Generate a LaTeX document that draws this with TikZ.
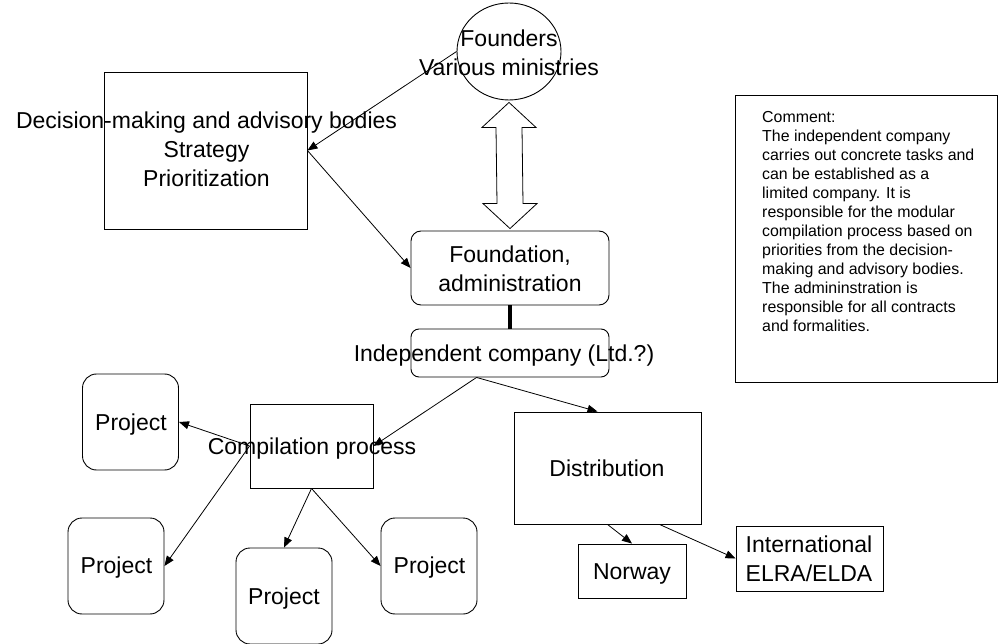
\documentclass[tikz,border=0pt]{standalone}
\usepackage{fontspec}
\setmainfont{Liberation Sans}
\usepackage{tikz}
\usetikzlibrary{arrows.meta,calc,shapes.geometric}

\begin{document}
\begin{tikzpicture}[x=1pt,y=1pt,yscale=-1,xscale=1,
  sqbox/.style={draw,line width=0.9pt,inner sep=0pt},
  rbox/.style={sqbox,rounded corners=10pt},
  pbox/.style={sqbox,rounded corners=14pt,minimum width=96pt,minimum height=96pt},
  lbl/.style={inner sep=0pt,align=center,font=\fontsize{23}{29}\selectfont},
  arr/.style={line width=0.8pt,-{Triangle[length=10pt,width=8pt]}}]
\useasboundingbox (0,0) rectangle (999,644);

%Shape: Ellipse
\node[ellipse,sqbox,minimum width=104pt,minimum height=97pt] (founders) at (509,51.5) {};
%Shape: Rectangle
\node[sqbox,minimum width=203pt,minimum height=157pt] (decision) at (205.5,150.5) {};
%Shape: Rounded Rect
\node[rbox,minimum width=198pt,minimum height=74pt] (foundation) at (510,268) {};
%Shape: Rounded Rect
\node[rbox,rounded corners=8pt,minimum width=198pt,minimum height=48pt] (independent) at (510,353) {};
%Shape: Rectangle
\node[sqbox,minimum width=262pt,minimum height=287pt] (comment) at (866.5,238.5) {};
%Shape: Rectangle
\node[sqbox,minimum width=123pt,minimum height=84pt] (compilation) at (311.5,446) {};
%Shape: Rounded Rect
\node[pbox] (projA) at (130.5,422) {};
\node[pbox] (projB) at (116,566) {};
\node[pbox] (projC) at (284,596) {};
\node[pbox] (projD) at (429,566) {};
%Shape: Rectangle
\node[sqbox,minimum width=187pt,minimum height=112pt] (distribution) at (607.5,468) {};
\node[sqbox,minimum width=108pt,minimum height=54pt] (norway) at (632,571) {};
\node[sqbox,minimum width=147pt,minimum height=65pt] (international) at (809.5,558.5) {};

%Double Arrow
\coordinate (ltop) at ($(founders.south)+(0,2)$);
\coordinate (lbot) at ($(foundation.north)+(0,-2)$);
\draw[line width=0.8pt] (ltop) -- ++(27,25) -- ++(-14,0) -- ($(lbot)+(13,-25)$) -- ++(14,0) -- (lbot)
  -- ++(-27,-25) -- ++(14,0) -- ($(ltop)+(-13,25)$) -- ++(-14,0) -- cycle;

%Straight Lines
\draw[arr] (founders.west) -- (decision.east);
\draw[arr] (decision.east) -- (foundation.west);
\draw[line width=4pt] (foundation.south) -- (independent.north);
\draw[arr] ([xshift=66pt]independent.south west) -- (compilation.east);
\draw[arr] ([xshift=66pt]independent.south west) -- ([xshift=-10pt]distribution.north);
\draw[arr] (compilation.west) -- (projA.east);
\draw[arr] (compilation.west) -- (projB.east);
\draw[arr] (compilation.south) -- (projC.north);
\draw[arr] (compilation.south) -- (projD.west);
\draw[arr] (distribution.south) -- (norway.north);
\draw[arr] ([xshift=52pt]distribution.south) -- (international.west);

% Text Node
\node[lbl] (founderstxt) at (509,53) {Founders\\Various ministries};
% Text Node
\node[lbl] (decisiontxt) at (206.5,149.6) {Decision-making and advisory bodies\\Strategy\\Prioritization};
% Text Node
\node[lbl] (foundationtxt) at (510,269) {Foundation,\\administration};
% Text Node
\node[lbl] (independenttxt) at (504,356) {Independent company (Ltd.?)};
% Text Node
\node[lbl] (compilationtxt) at (312,449) {Compilation process};
% Text Node
\node[lbl] (projAtxt) at (131,425) {Project};
\node[lbl] (projBtxt) at (116.5,568) {Project};
\node[lbl] (projCtxt) at (284,599) {Project};
\node[lbl] (projDtxt) at (429.5,568) {Project};
% Text Node
\node[lbl] (distributiontxt) at (607,468.6) {Distribution};
\node[lbl] (norwaytxt) at (632,574) {Norway};
\node[lbl] (internationaltxt) at (809,559) {International\\ELRA/ELDA};
% Text Node
\node[inner sep=0pt,align=left,anchor=north west,font=\fontsize{15.9}{19}\selectfont] (commenttxt) at (762,111.2)
  {Comment:\\The independent company\\carries out concrete tasks and\\can be established as a\\limited company. It is\\responsible for the modular\\compilation process based on\\priorities from the decision-\\making and advisory bodies.\\The admininstration is\\responsible for all contracts\\and formalities.};

\end{tikzpicture}
\end{document}
